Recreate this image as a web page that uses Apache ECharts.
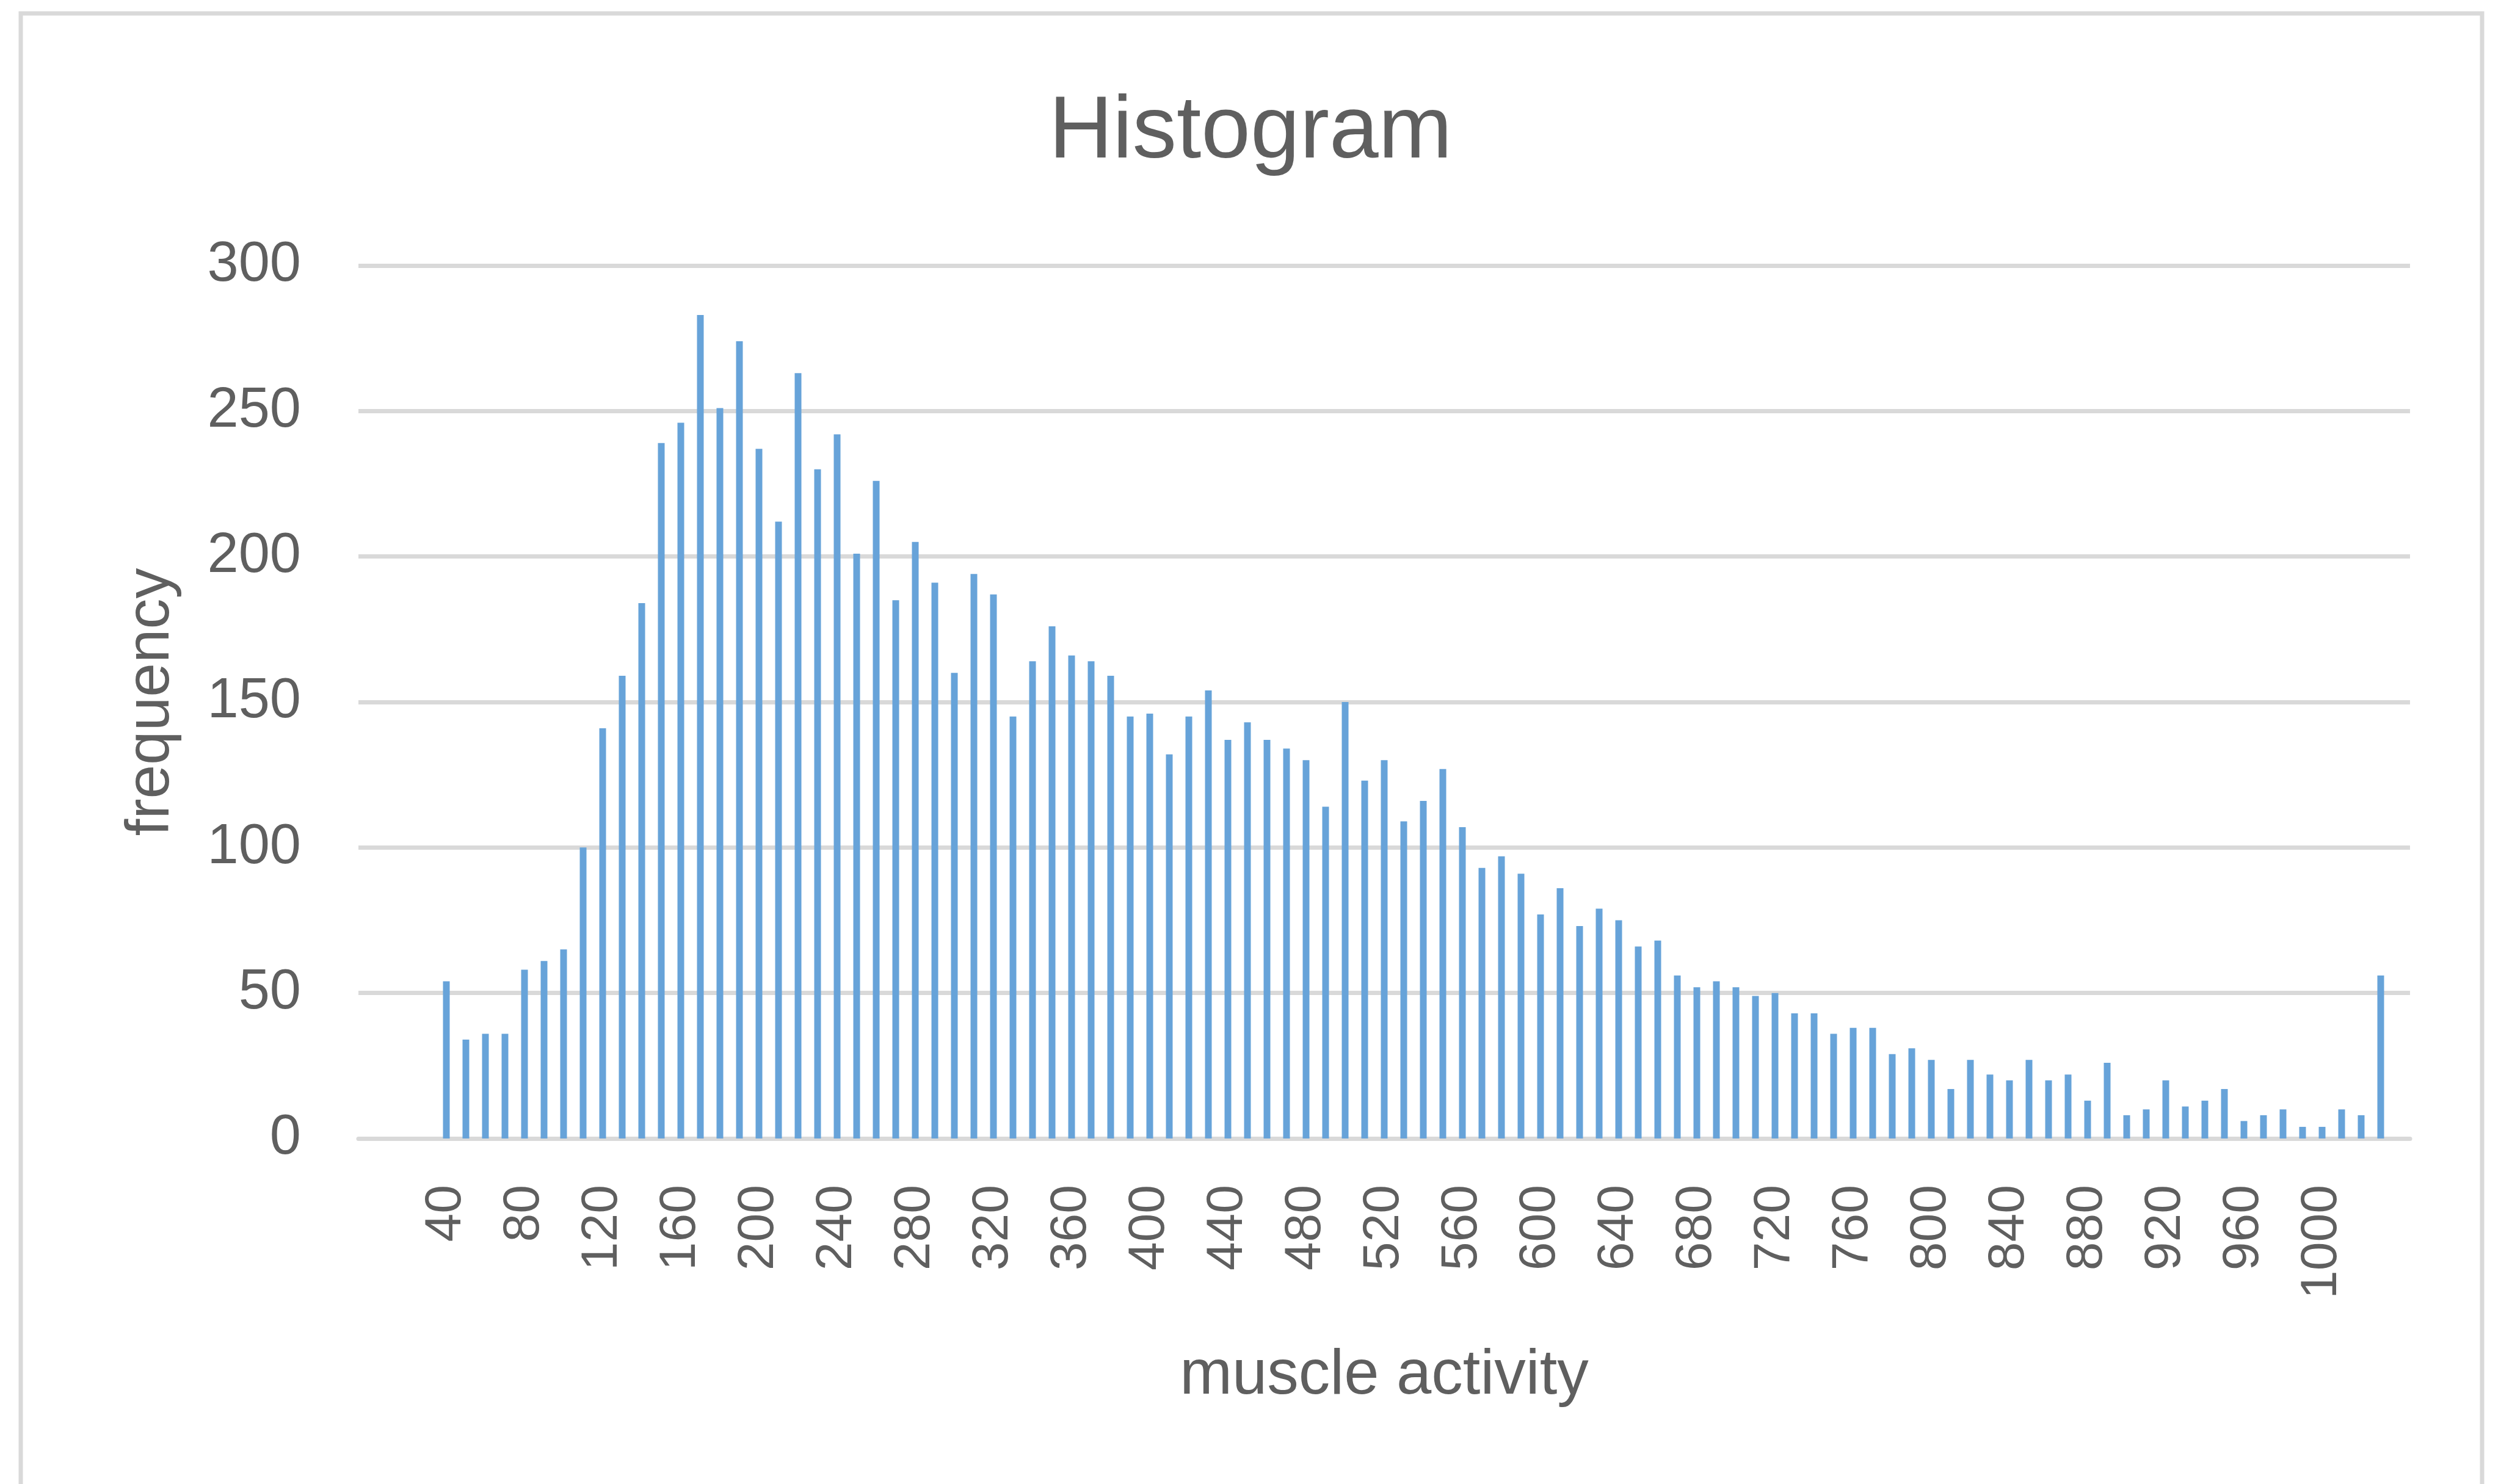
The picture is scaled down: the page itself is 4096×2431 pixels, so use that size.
<!DOCTYPE html>
<html>
<head>
<meta charset="utf-8">
<title>Histogram</title>
<script src="https://cdn.jsdelivr.net/npm/echarts/dist/echarts.min.js"></script>
<style>
  html, body { margin: 0; padding: 0; background: #fff; }
  #chart { width: 4096px; height: 2431px; }
</style>
</head>
<body>
<div id="chart"></div>
<script>
// bins (upper bound of each class) as in the Excel histogram
const bins = [
  '40', '50', '60', '70', '80', '90', '100', '110', '120', '130',
  '140', '150', '160', '170', '180', '190', '200', '210', '220', '230',
  '240', '250', '260', '270', '280', '290', '300', '310', '320', '330',
  '340', '350', '360', '370', '380', '390', '400', '410', '420', '430',
  '440', '450', '460', '470', '480', '490', '500', '510', '520', '530',
  '540', '550', '560', '570', '580', '590', '600', '610', '620', '630',
  '640', '650', '660', '670', '680', '690', '700', '710', '720', '730',
  '740', '750', '760', '770', '780', '790', '800', '810', '820', '830',
  '840', '850', '860', '870', '880', '890', '900', '910', '920', '930',
  '940', '950', '960', '970', '980', '990', '1000', '1010', '1020', 'More'
]

const frequency = [
  54, 34, 36, 36, 58, 61, 65, 100, 141, 159,
  184, 239, 246, 283, 251, 274, 237, 212, 263, 230,
  242, 201, 226, 185, 205, 191, 160, 194, 187, 145,
  164, 176, 166, 164, 159, 145, 146, 132, 145, 154,
  137, 143, 137, 134, 130, 114, 150, 123, 130, 109,
  116, 127, 107, 93, 97, 91, 77, 86, 73, 79,
  75, 66, 68, 56, 52, 54, 52, 49, 50, 43,
  43, 36, 38, 38, 29, 31, 27, 17, 27, 22,
  20, 27, 20, 22, 13, 26, 8, 10, 20, 11,
  13, 17, 6, 8, 10, 4, 4, 10, 8, 56
]

const yTicks = [0, 50, 100, 150, 200, 250, 300]

const textColor = '#5f5f5f'
const lineColor = '#d9d9d9'
const font = "'Liberation Sans', Arial, sans-serif"

const chart = echarts.init(document.getElementById('chart'), null, { renderer: 'canvas' })

chart.setOption({
  backgroundColor: '#ffffff',
  animation: false,
  title: {
    text: 'Histogram',
    left: 'center',
    top: 146,
    padding: 0,
    textStyle: {
      fontFamily: font,
      fontSize: 145,
      fontWeight: 'normal',
      color: textColor
    }
  },
  // outer chart border
  graphic: [
    {
      type: 'rect',
      shape: { x: 34, y: 22, width: 4031, height: 2500 },
      style: { fill: 'none', stroke: lineColor, lineWidth: 7 },
      silent: true
    }
  ],
  grid: {
    left: 587,
    right: 149,
    top: 435,
    bottom: 566
  },
  xAxis: {
    type: 'category',
    data: bins,
    // the plot area has four empty slots before the first bin
    min: -4,
    max: 100,
    boundaryGap: true,
    name: 'muscle activity',
    nameLocation: 'middle',
    nameGap: 338,
    nameTextStyle: {
      fontFamily: font,
      fontSize: 103,
      color: textColor
    },
    axisLine: { show: true, lineStyle: { color: lineColor, width: 7 } },
    axisTick: { show: false },
    axisLabel: {
      interval: 3,
      rotate: 90,
      margin: 76,
      fontFamily: font,
      fontSize: 84,
      color: textColor,
      formatter: function (value) {
        return bins.indexOf(String(value)) >= 0 ? String(value) : ''
      }
    },
    splitLine: { show: false }
  },
  yAxis: {
    type: 'value',
    min: yTicks[0],
    max: yTicks[yTicks.length - 1],
    interval: 50,
    name: 'frequency',
    nameLocation: 'middle',
    nameGap: 289,
    nameTextStyle: {
      fontFamily: font,
      fontSize: 100,
      color: textColor
    },
    axisLine: { show: false },
    axisTick: { show: false },
    axisLabel: {
      margin: 94,
      fontFamily: font,
      fontSize: 92,
      color: textColor
    },
    splitLine: { lineStyle: { color: lineColor, width: 7 } }
  },
  series: [
    {
      name: 'frequency',
      type: 'bar',
      data: frequency,
      barWidth: 11,
      itemStyle: { color: '#67a3d9' }
    }
  ]
})
</script>
</body>
</html>
